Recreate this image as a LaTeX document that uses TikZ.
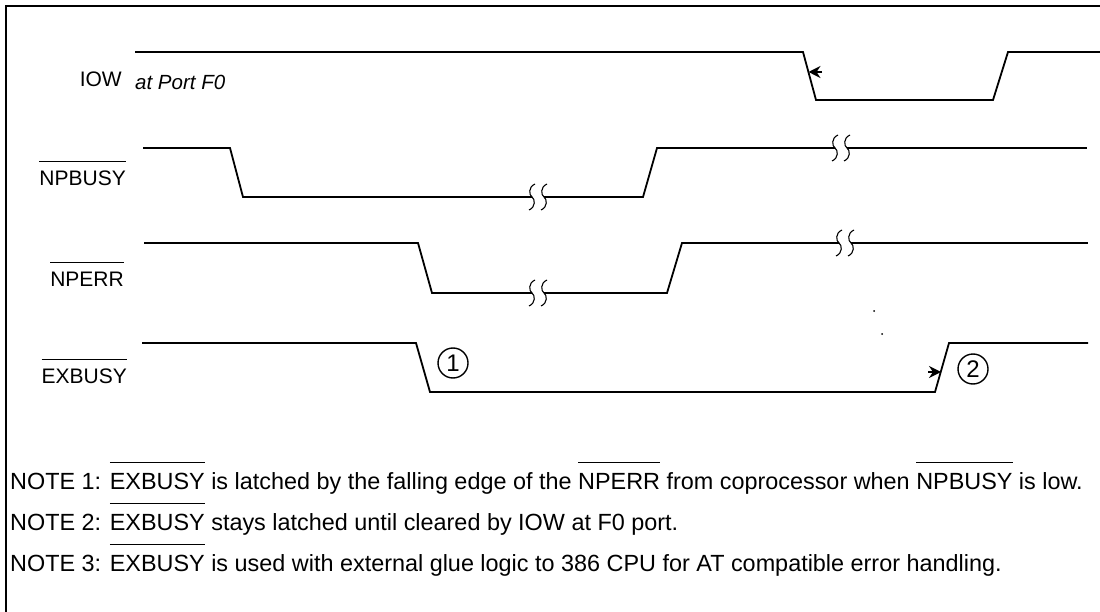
\documentclass[tikz,border=0pt]{standalone}
\usepackage{fontspec}
\setmainfont{Liberation Sans}
\usetikzlibrary{arrows.meta}
\newcommand\ovl[1]{\setbox0=\hbox{#1}\rlap{\raisebox{1.12em}{\rule{\wd0}{0.8pt}}}\box0\relax}
\begin{document}
\begin{tikzpicture}[x=1pt,y=-1pt,
  sig/.style={line width=1.8pt, line join=miter},
  frame/.style={line width=1.6pt},
  lbl/.style={font=\fontsize{21}{24}\selectfont, inner sep=0pt, anchor=east},
  notetext/.style={font=\fontsize{23.4}{26}\selectfont, inner sep=0pt, anchor=west},
  num/.style={circle, draw, line width=1.4pt, minimum size=30pt, inner sep=0pt, font=\fontsize{24}{26}\selectfont},
  tiparrow/.style={line width=1.6pt, -{Stealth[length=12pt,width=12pt,inset=4pt]}},
  brkmark/.pic={\draw[line width=1.1pt] (3,-13) .. controls (-4,-10) and (-3,-2) .. (0,0) .. controls (3,2) and (4,10) .. (-3,13);}
]
\useasboundingbox (0,0) rectangle (1100,612);
% frame
\draw[frame] (6,612) -- (6,6) -- (1100,6);

% labels
\node[lbl] (liow) at (122,79) {IOW};
\node[font=\fontsize{20.5}{24}\selectfont\itshape, inner sep=0pt, anchor=west] (lport) at (135,82) {at Port F0};
\node[lbl] (lnpb) at (126,173) {\ovl{NPBUSY}};
\node[lbl] (lnpe) at (124,274) {\ovl{NPERR}};
\node[lbl] (lexb) at (127,371) {\ovl{EXBUSY}};

% IOW
\draw[sig] (135,52) -- (803,52) -- (816,100) -- (993,100) -- (1008,52) -- (1100,52);
\draw[tiparrow] (822,72) -- (808.5,72);

% NPBUSY
\draw[sig] (143,148) -- (230,148) -- (243,197) -- (532,197);
\draw[sig] (544,197) -- (643,197) -- (657,148) -- (835,148);
\draw[sig] (847,148) -- (1087,148);
\pic at (532,197) {brkmark}; \pic at (544,197) {brkmark};
\pic at (835,148) {brkmark}; \pic at (847,148) {brkmark};

% NPERR
\draw[sig] (144,243) -- (418,243) -- (432,293) -- (532,293);
\draw[sig] (544,293) -- (667,293) -- (682,243) -- (839,243);
\draw[sig] (851,243) -- (1088,243);
\pic at (532,293) {brkmark}; \pic at (544,293) {brkmark};
\pic at (839,243) {brkmark}; \pic at (851,243) {brkmark};

% EXBUSY
\draw[sig] (142,343) -- (416,343) -- (430,392) -- (935,392) -- (949,343) -- (1088,343);
\draw[tiparrow] (928,372) -- (941,372);

\node[num] (n1) at (453,363) {1};
\node[num] (n2) at (973,369) {2};

% stray dots
\fill (874,311) circle (1pt);
\fill (882,334) circle (1pt);

% notes
\node[notetext] (note1) at (10,478) {NOTE 1: \ovl{EXBUSY} is latched by the falling edge of the \ovl{NPERR} from coprocessor when \ovl{NPBUSY} is low.};
\node[notetext] (note2) at (10,519) {NOTE 2: \ovl{EXBUSY} stays latched until cleared by IOW at F0 port.};
\node[notetext] (note3) at (10,560) {NOTE 3: \ovl{EXBUSY} is used with external glue logic to 386 CPU for AT compatible error handling.};
\end{tikzpicture}
\end{document}
